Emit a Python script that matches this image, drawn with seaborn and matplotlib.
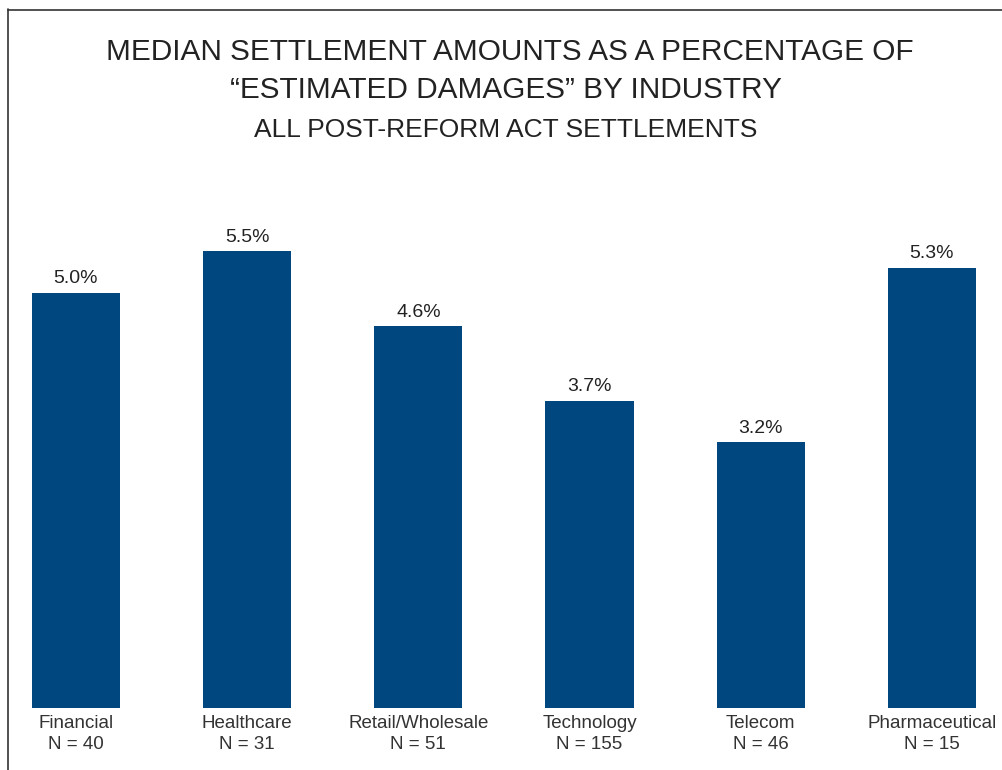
import matplotlib
matplotlib.use("Agg")
import matplotlib.pyplot as plt
from matplotlib.lines import Line2D
import seaborn as sns
import pandas as pd

industries = ["Financial", "Healthcare", "Retail/Wholesale", "Technology", "Telecom", "Pharmaceutical"]
case_counts = [40, 31, 51, 155, 46, 15]
median_pct = [5.0, 5.5, 4.6, 3.7, 3.2, 5.3]

title_lines = ["MEDIAN SETTLEMENT AMOUNTS AS A PERCENTAGE OF",
               "\u201cESTIMATED DAMAGES\u201d BY INDUSTRY"]
subtitle = "ALL POST-REFORM ACT SETTLEMENTS"

sns.set_theme(style="white")
plt.rcParams["font.family"] = ["Liberation Sans", "DejaVu Sans"]

W, H = 1003, 770
fig = plt.figure(figsize=(W / 100, H / 100), dpi=100)
# axes box: left frame at x=8px, top frame at y=9px, baseline at y=708px
ax = fig.add_axes([8 / W, (H - 708) / H, (W - 8) / W, (708 - 9) / H])

df = pd.DataFrame({"industry": industries, "pct": median_pct})
sns.barplot(data=df, x="industry", y="pct", color="#00467f", saturation=1,
            width=0.515, linewidth=0, ax=ax)

ax.set_xlim(-0.397, 5.415)
ax.set_ylim(0, 8.42)
for s in ax.spines.values():
    s.set_visible(False)
ax.set_yticks([])
ax.set_xticks(range(len(industries)))
ax.set_xticklabels([f"{n}\nN = {c}" for n, c in zip(industries, case_counts)],
                   fontsize=13.5, color="#333333", linespacing=1.35)
ax.tick_params(axis="x", length=0, pad=5)
ax.set_xlabel("")
ax.set_ylabel("")

for i, v in enumerate(median_pct):
    ax.annotate(f"{v:.1f}%", (i, v), xytext=(0, 4), textcoords="offset points",
                ha="center", va="bottom", fontsize=14, color="#222222")

# frame lines along the left and top
fig.add_artist(Line2D([8.5 / W, 8.5 / W], [0, 1 - 9 / H], transform=fig.transFigure,
                      color="#333333", lw=1.2))
fig.add_artist(Line2D([8.5 / W, 1], [1 - 9.5 / H, 1 - 9.5 / H], transform=fig.transFigure,
                      color="#333333", lw=1.2))

cx = (8 + W) / 2 / W
fig.text(cx + 0.004, 1 - 52 / H, title_lines[0], ha="center", va="center", fontsize=21.4, color="#222222")
fig.text(cx, 1 - 90 / H, title_lines[1], ha="center", va="center", fontsize=21.4, color="#222222")
fig.text(cx, 1 - 130 / H, subtitle, ha="center", va="center", fontsize=19, color="#222222")

fig.savefig("out.png", dpi=100)
